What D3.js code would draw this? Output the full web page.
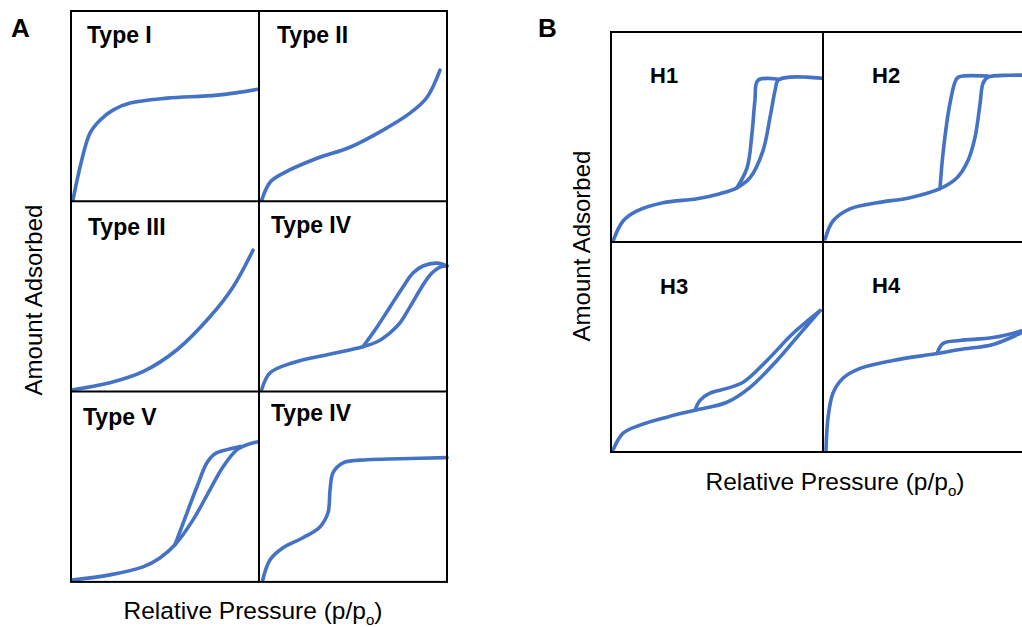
<!DOCTYPE html>
<html>
<head>
<meta charset="utf-8">
<script src="https://cdn.jsdelivr.net/npm/d3@7"></script>
<style>
  body { margin: 0; background: #fff; }
  text { font-family: "Liberation Sans", Arial, sans-serif; fill: #000; }
</style>
</head>
<body>
<svg id="chart" width="1022" height="627"></svg>
<script>
// isotherm shapes, both axes 0-100 (relative pressure, amount adsorbed)
var typeTitles = ["Type I", "Type II", "Type III", "Type IV", "Type V", "Type IV"]
var hystTitles = ["H1", "H2", "H3", "H4"]

var typeI = [[1,0.5],[5.7,21.6],[10.1,35.8],[15.4,42.6],[22.3,47.9],[31.4,51.6],[51.1,54.2],[77.7,55.8],[99.5,58.9]]
var typeII = [[1.4,0.5],[5.9,10],[12.8,14.7],[30.9,22.6],[48.4,28.4],[66,37.4],[80.3,46.3],[89.4,54.7],[96.3,68.9]]
var typeIII = [[1,1],[20.7,4.7],[38.3,10.5],[56.4,22],[73.9,39.3],[86.2,55],[96.8,74.3]]
var typeIVAds = [[1.4,1],[5.9,9.9],[18.1,15.2],[36.2,19.4],[55.3,23.6],[62.8,26.2],[69.7,30.9],[75,36.1],[80.3,44.5],[85.6,53.4],[91,61.3],[96.3,65.4],[100,66]]
var typeIVDes = [[55.3,23.6],[62.8,34],[69.7,44.5],[76.6,55],[81.9,62.3],[87.2,66],[94.7,67.5],[100,66]]
var typeVAds = [[0.4,1],[20.7,3.7],[38.3,7.9],[47.3,12.6],[55.3,19.5],[64.9,32.6],[73.9,48.4],[80.9,60.5],[88.3,69.5],[93.6,72.1],[99.5,73.7]]
var typeVDes = [[55.3,19.5],[61.7,36.3],[67,50],[72.3,62.6],[76.6,67.4],[83,69.5],[90,71.2]]
var typeIVb = [[2,1],[5.9,11.6],[12.8,17.9],[23.4,23.2],[32.4,28.9],[36.7,36.3],[37.8,48.4],[39.4,57.4],[44.7,62.6],[57.4,64.2],[75,64.7],[100,65.3]]

var h1Ads = [[1,0.5],[5.7,10],[12.3,14.8],[24.5,18.7],[40.6,20.6],[51.4,23],[59.4,25.8],[65.6,30.6],[71.7,43.5],[75,59.3],[77.4,72.2],[78.8,77],[84.4,78.5],[92.5,78.5],[99.5,78]]
var h1Des = [[59.4,25.8],[64.2,35.4],[66.5,51.7],[67.9,67.5],[69.3,77],[78.8,77.5]]
var h2Ads = [[1,1.4],[4.7,10],[12.7,15.8],[25.5,18.7],[41,21.1],[55.2,25.4],[63.2,30.6],[68.4,38.8],[71.7,49.8],[74.1,66],[75.5,75.6],[77.8,78.5],[88.2,79.4],[100,79.4]]
var h2Des = [[55.2,25.4],[56.6,42.1],[59.9,66],[63.2,78],[66,79],[77.8,79]]
var h3Ads = [[1,1],[5.7,9],[13.7,12.8],[26.4,16.6],[39.6,19.9],[54.7,23.7],[65.6,30.8],[78.3,43.6],[89.2,56.4],[98.6,67.3]]
var h3Des = [[39.6,19.9],[42,24.6],[46.7,28],[54.7,30.3],[62.3,33.2],[73.6,43.6],[85.8,56.4],[98.6,67.3]]
var h4Ads = [[1.4,1],[2.4,16.6],[4.7,28],[9.4,35.1],[17.5,39.8],[33,43.6],[53.8,46.9],[64.6,48.8],[80.2,51.2],[93.9,56.9],[100,60]]
var h4Des = [[53.8,46.9],[56.6,51.7],[64.6,53.1],[80.2,54.5],[93.9,57.8],[100,60]]

var typeCurves = [[typeI], [typeII], [typeIII], [typeIVAds, typeIVDes], [typeVAds, typeVDes], [typeIVb]]
var hystCurves = [[h1Ads, h1Des], [h2Ads, h2Des], [h3Ads, h3Des], [h4Ads, h4Des]]

var blue = "#4472C4"
var svg = d3.select("#chart")

var panels = [
  { letter: "A", letterPos: [11, 37], left: 71, top: 11, cellW: 188, cellH: 190.3, cols: 2, rows: 3,
    titles: typeTitles, curves: typeCurves, titleSize: 23,
    titleOff: [[16, 32], [18, 32], [17, 34], [12, 32], [12, 33], [12, 29]],
    yLabel: [42, 300], xLabel: [253, 619] },
  { letter: "B", letterPos: [538, 37], left: 611, top: 32, cellW: 212, cellH: 210, cols: 2, rows: 2,
    titles: hystTitles, curves: hystCurves, titleSize: 22,
    titleOff: [[39, 51], [49, 51], [49, 52], [49, 51]],
    yLabel: [590, 246], xLabel: [835, 490] }
]

var line = d3.line().curve(d3.curveCatmullRom.alpha(0.5))

panels.forEach(function (p) {
  var colScale = d3.scaleBand().domain(d3.range(p.cols)).range([p.left, p.left + p.cols * p.cellW])
  var rowScale = d3.scaleBand().domain(d3.range(p.rows)).range([p.top, p.top + p.rows * p.cellH])

  var g = svg.append("g").attr("class", "panel")

  var cells = g.selectAll(".cell")
    .data(p.curves)
    .enter()
    .append("g")
    .attr("class", "cell")

  cells.each(function (branches, i) {
    var cx = colScale(i % p.cols), cy = rowScale(Math.floor(i / p.cols))
    var x = d3.scaleLinear().domain([0, 100]).range([cx, cx + p.cellW])
    var y = d3.scaleLinear().domain([0, 100]).range([cy + p.cellH, cy])
    line.x(d => x(d[0])).y(d => y(d[1]))

    var cell = d3.select(this)
    cell.selectAll("path")
      .data(branches)
      .enter()
      .append("path")
      .attr("d", line)
      .attr("fill", "none")
      .attr("stroke", blue)
      .attr("stroke-width", 3.6)
      .attr("stroke-linecap", "round")
      .attr("stroke-linejoin", "round")

    cell.append("text")
      .attr("x", cx + p.titleOff[i][0])
      .attr("y", cy + p.titleOff[i][1])
      .attr("font-size", p.titleSize)
      .attr("font-weight", "bold")
      .text(p.titles[i])
  })

  // grid lines
  var right = p.left + p.cols * p.cellW, bottom = p.top + p.rows * p.cellH
  g.append("rect")
    .attr("x", p.left).attr("y", p.top)
    .attr("width", right - p.left).attr("height", bottom - p.top)
    .attr("fill", "none").attr("stroke", "#000").attr("stroke-width", 2)
  d3.range(1, p.cols).forEach(function (c) {
    g.append("line").attr("x1", colScale(c)).attr("x2", colScale(c))
      .attr("y1", p.top).attr("y2", bottom).attr("stroke", "#000").attr("stroke-width", 2)
  })
  d3.range(1, p.rows).forEach(function (r) {
    g.append("line").attr("y1", rowScale(r)).attr("y2", rowScale(r))
      .attr("x1", p.left).attr("x2", right).attr("stroke", "#000").attr("stroke-width", 2)
  })

  g.append("text")
    .attr("x", p.letterPos[0]).attr("y", p.letterPos[1])
    .attr("font-size", 26).attr("font-weight", "bold")
    .text(p.letter)

  g.append("text")
    .attr("transform", `translate(${p.yLabel[0]},${p.yLabel[1]}) rotate(-90)`)
    .attr("text-anchor", "middle")
    .attr("font-size", 24)
    .text("Amount Adsorbed")

  var xl = g.append("text")
    .attr("x", p.xLabel[0]).attr("y", p.xLabel[1])
    .attr("text-anchor", "middle")
    .attr("font-size", 24.5)
  xl.append("tspan").text("Relative Pressure (p/p")
  xl.append("tspan").attr("font-size", 15).attr("dy", 6).text("o")
  xl.append("tspan").attr("dy", -6).text(")")
})
</script>
</body>
</html>
